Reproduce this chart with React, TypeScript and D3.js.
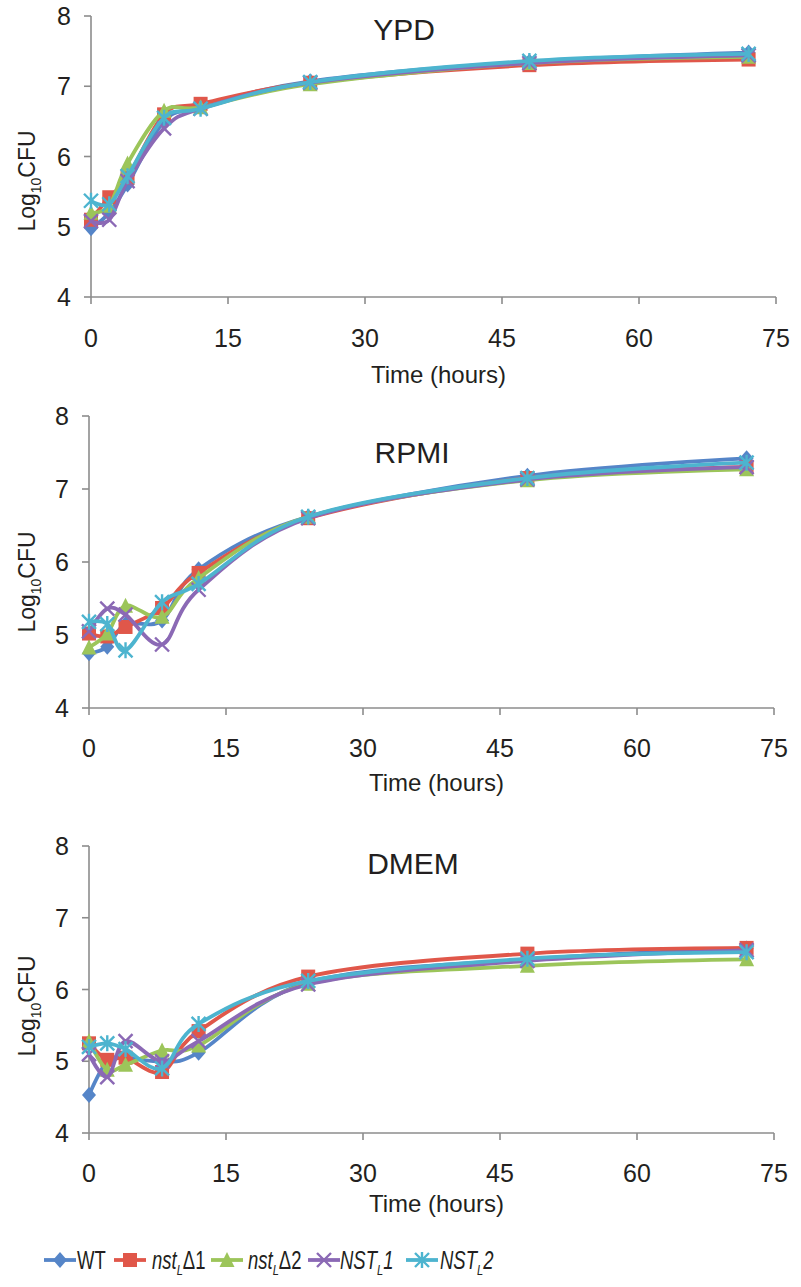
import React from "react";
import * as d3 from "d3";

// Sampling times (hours)
const hours = [0, 2, 4, 8, 12, 24, 48, 72];

const strainKeys = ["WT", "d1", "d2", "N1", "N2"];
const strainColors = ["#5585C8", "#E0574A", "#9CC55A", "#8B69B5", "#4DB4CF"];
const strainMarkers = ["diamond", "square", "triangle", "x", "star"];

// Log10 CFU per strain, YPD medium
const ypdWT = [4.98, 5.2, 5.6, 6.5, 6.7, 7.07, 7.35, 7.48];
const ypdD1 = [5.1, 5.42, 5.7, 6.6, 6.75, 7.05, 7.3, 7.38];
const ypdD2 = [5.2, 5.3, 5.9, 6.65, 6.7, 7.03, 7.33, 7.42];
const ypdN1 = [5.08, 5.1, 5.65, 6.4, 6.68, 7.05, 7.33, 7.44];
const ypdN2 = [5.37, 5.32, 5.72, 6.55, 6.68, 7.06, 7.36, 7.46];

// RPMI medium
const rpmiWT = [4.75, 4.84, 5.15, 5.2, 5.9, 6.62, 7.18, 7.42];
const rpmiD1 = [5.02, 4.98, 5.11, 5.37, 5.85, 6.6, 7.15, 7.3];
const rpmiD2 = [4.83, 5.02, 5.4, 5.25, 5.78, 6.62, 7.12, 7.27];
const rpmiN1 = [5.05, 5.36, 5.28, 4.87, 5.62, 6.6, 7.13, 7.3];
const rpmiN2 = [5.18, 5.15, 4.79, 5.45, 5.7, 6.62, 7.15, 7.36];

// DMEM medium
const dmemWT = [4.53, 5.0, 5.05, 5.0, 5.12, 6.1, 6.42, 6.57];
const dmemD1 = [5.25, 5.02, 5.05, 4.85, 5.42, 6.18, 6.5, 6.58];
const dmemD2 = [5.28, 4.88, 4.95, 5.15, 5.22, 6.08, 6.33, 6.42];
const dmemN1 = [5.1, 4.78, 5.28, 5.0, 5.28, 6.07, 6.4, 6.55];
const dmemN2 = [5.2, 5.25, 5.17, 4.9, 5.52, 6.12, 6.43, 6.52];

const xTicks = [0, 15, 30, 45, 60, 75];
const yTicks = [4, 5, 6, 7, 8];

const panels = [
  {
    title: "YPD",
    series: [ypdWT, ypdD1, ypdD2, ypdN1, ypdN2],
    x0: 91, x1: 776, yTop: 16, yBot: 297,
    titleX: 404, titleY: 40,
    tickY: 347, xTitleY: 383, yTitleCY: 181,
  },
  {
    title: "RPMI",
    series: [rpmiWT, rpmiD1, rpmiD2, rpmiN1, rpmiN2],
    x0: 89, x1: 774, yTop: 416, yBot: 708,
    titleX: 412, titleY: 463,
    tickY: 757, xTitleY: 791, yTitleCY: 582,
  },
  {
    title: "DMEM",
    series: [dmemWT, dmemD1, dmemD2, dmemN1, dmemN2],
    x0: 89, x1: 774, yTop: 846, yBot: 1133,
    titleX: 413, titleY: 874,
    tickY: 1182, xTitleY: 1212, yTitleCY: 1006,
  },
];

const AXIS = "#8c8c8c";
const INK = "#231f20";
const FONT = "'Liberation Sans', Arial, Helvetica, sans-serif";

function Marker({ kind, x, y, color }: { kind: string; x: number; y: number; color: string }) {
  const s = 7;
  if (kind === "diamond") {
    return <path d={`M${x},${y - s - 1}L${x + s},${y}L${x},${y + s + 1}L${x - s},${y}Z`} fill={color} />;
  }
  if (kind === "square") {
    return <rect x={x - s} y={y - s} width={2 * s} height={2 * s} fill={color} />;
  }
  if (kind === "triangle") {
    return <path d={`M${x},${y - s - 1}L${x + s + 0.5},${y + s}L${x - s - 0.5},${y + s}Z`} fill={color} />;
  }
  if (kind === "x") {
    return (
      <path
        d={`M${x - s},${y - s}L${x + s},${y + s}M${x + s},${y - s}L${x - s},${y + s}`}
        stroke={color}
        strokeWidth={2.4}
      />
    );
  }
  return (
    <path
      d={`M${x - s},${y - s}L${x + s},${y + s}M${x + s},${y - s}L${x - s},${y + s}M${x},${y - s - 1}L${x},${y + s + 1}`}
      stroke={color}
      strokeWidth={2.4}
    />
  );
}

function Panel({ p }: { p: (typeof panels)[number] }) {
  const x = d3.scaleLinear().domain([0, 75]).range([p.x0, p.x1]);
  const y = d3.scaleLinear().domain([4, 8]).range([p.yBot, p.yTop]);
  const line = d3
    .line<[number, number]>()
    .x((d) => x(d[0]))
    .y((d) => y(d[1]))
    .curve(d3.curveCardinal.tension(0));

  return (
    <g>
      {/* axes */}
      <line x1={p.x0} x2={p.x0} y1={p.yTop} y2={p.yBot} stroke={AXIS} strokeWidth={1.6} />
      <line x1={p.x0} x2={p.x1} y1={p.yBot} y2={p.yBot} stroke={AXIS} strokeWidth={1.6} />
      {yTicks.map((t) => (
        <g key={"y" + t}>
          <line x1={p.x0 - 7} x2={p.x0} y1={y(t)} y2={y(t)} stroke={AXIS} strokeWidth={1.6} />
          <text x={p.x0 - 20} y={y(t) + 9} textAnchor="end" fontSize={25} fill={INK}>
            {t}
          </text>
        </g>
      ))}
      {xTicks.map((t) => (
        <g key={"x" + t}>
          <line x1={x(t)} x2={x(t)} y1={p.yBot} y2={p.yBot + 7} stroke={AXIS} strokeWidth={1.6} />
          <text x={x(t)} y={p.tickY} textAnchor="middle" fontSize={25} fill={INK}>
            {t}
          </text>
        </g>
      ))}
      <text x={(p.x0 + p.x1) / 2 + 5} y={p.xTitleY} textAnchor="middle" fontSize={24} fill={INK}>
        Time (hours)
      </text>
      <text
        transform={`translate(35,${p.yTitleCY}) rotate(-90)`}
        textAnchor="middle"
        fontSize={23}
        fill={INK}
      >
        Log
        <tspan fontSize={14} dy={6}>10</tspan>
        <tspan dy={-6}>CFU</tspan>
      </text>
      <text x={p.titleX} y={p.titleY} textAnchor="middle" fontSize={30} fill={INK}>
        {p.title}
      </text>

      {/* series lines and markers */}
      {p.series.map((vals, i) => {
        const pts = hours.map((h, j) => [h, vals[j]] as [number, number]);
        return (
          <g key={strainKeys[i]}>
            <path d={line(pts) || ""} fill="none" stroke={strainColors[i]} strokeWidth={3.8} strokeLinejoin="round" />
            {pts.map((d, j) => (
              <Marker key={j} kind={strainMarkers[i]} x={x(d[0])} y={y(d[1])} color={strainColors[i]} />
            ))}
          </g>
        );
      })}
    </g>
  );
}

const legendLineX = [44, 114, 211, 308, 406];
const legendTextX = [77, 152, 248, 340, 440];

function LegendLabel({ i }: { i: number }) {
  if (i === 0) return <>WT</>;
  if (i === 1 || i === 2)
    return (
      <>
        <tspan fontStyle="italic">nst</tspan>
        <tspan fontStyle="italic" fontSize={15} dy={6}>L</tspan>
        <tspan dy={-6}>{"\u0394" + i}</tspan>
      </>
    );
  return (
    <>
      <tspan fontStyle="italic">NST</tspan>
      <tspan fontStyle="italic" fontSize={15} dy={6}>L</tspan>
      <tspan fontStyle="italic" dy={-6}>{String(i - 2)}</tspan>
    </>
  );
}

export default function App() {
  const legendY = 1260;
  return (
    <div style={{ position: "absolute", left: 0, top: 0 }}>
      <svg width={801} height={1287} style={{ display: "block", background: "#fff" }} fontFamily={FONT}>
        {panels.map((p) => (
          <Panel key={p.title} p={p} />
        ))}
        <g>
          {strainKeys.map((k, i) => (
            <g key={k}>
              <line
                x1={legendLineX[i]}
                x2={legendLineX[i] + 32}
                y1={legendY}
                y2={legendY}
                stroke={strainColors[i]}
                strokeWidth={3.8}
              />
              <Marker kind={strainMarkers[i]} x={legendLineX[i] + 16} y={legendY} color={strainColors[i]} />
              <g transform={`translate(${legendTextX[i]},${legendY + 9}) scale(0.74,1)`}>
                <text x={0} y={0} fontSize={25} fill={INK}>
                  <LegendLabel i={i} />
                </text>
              </g>
            </g>
          ))}
        </g>
      </svg>
    </div>
  );
}
